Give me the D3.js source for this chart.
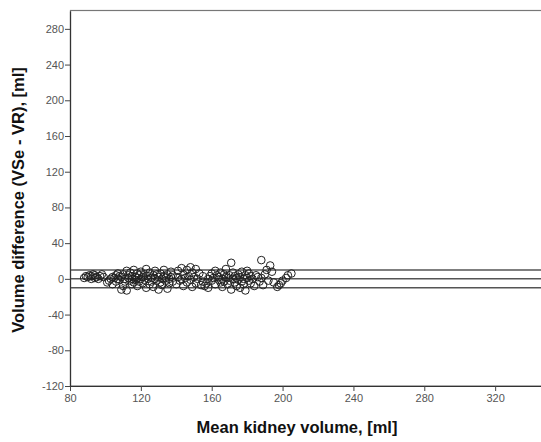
<!DOCTYPE html>
<html>
<head>
<meta charset="utf-8">
<script src="https://cdn.jsdelivr.net/npm/d3@7"></script>
<style>
  body { margin: 0; background: #fff; }
  svg { display: block; }
  .tick text { font-family: Arial, "Liberation Sans", sans-serif; font-size: 11px; fill: #555; }
  .axis-title { font-family: Arial, "Liberation Sans", sans-serif; font-size: 16.5px; font-weight: bold; fill: #111; }
</style>
</head>
<body>
<div id="chart"></div>
<script>
// mean kidney volume [ml] vs difference VSe - VR [ml]
var points = [
  [88,1],[89,3],[90,2],[91,4],[92,0],[92,3],[93,5],[94,1],[94,4],[95,2],[96,0],[97,3],[98,5],[99,2],
  [101,-4],[102,-2],[103,0],[104,2],[104,-6],[105,1],[106,4],[106,-3],[107,0],[107,6],[108,-1],[108,3],
  [109,-12],[109,2],[110,-8],[110,5],[111,0],[111,-3],[112,9],[112,-13],[113,1],[113,4],[114,-2],[114,7],
  [115,-6],[115,0],[115,3],[116,10],[116,-4],[117,2],[117,-1],[118,6],[118,-8],[118,1],[119,4],[119,-3],
  [120,0],[120,8],[121,-5],[121,2],[122,5],[122,-1],[123,11],[123,-10],[124,3],[124,0],[125,-6],[125,7],
  [126,1],[126,-3],[127,4],[127,-9],[128,0],[128,9],[129,-2],[129,5],[130,2],[130,-12],[131,-4],[131,6],
  [132,0],[132,-7],[133,3],[133,10],[134,-2],[134,1],[135,5],[135,-11],[136,0],[136,-5],[137,8],[137,2],
  [138,-3],[138,4],
  [140,-6],[141,2],[141,9],[142,-2],[143,12],[143,0],[144,5],[144,-8],[145,1],[146,10],[146,-4],[147,3],
  [148,13],[148,-1],[149,7],[149,-9],[150,2],[151,11],[151,-5],[152,0],[153,6],[154,-7],[155,-3],[155,3],
  [156,-8],[157,-5],[158,0],[158,-10],[159,3],[160,-2],[160,6],[161,1],[162,-6],[162,9],[163,4],[164,-1],
  [164,2],[165,-4],[165,7],
  [166,0],[166,-9],[167,5],[167,-3],[168,2],[168,11],[169,-6],[169,1],[170,-2],[170,4],[171,18],[171,-12],
  [172,0],[172,7],[173,-4],[173,3],[174,-8],[174,1],[175,5],[175,-1],[176,-10],[176,2],[177,8],[177,-3],
  [178,0],[178,-6],[179,4],[179,-13],[180,1],[180,9],[181,-2],[181,6],[182,-5],[182,3],
  [183,0],[184,-8],[185,4],[186,2],[187,-3],[188,21],[188,1],[189,-7],[190,5],[191,10],[192,-2],[193,15],
  [194,8],[195,-4],
  [197,-9],[198,-7],[199,-5],[200,-2],[202,1],[203,4],[205,6]
];
var refLines = [10, 0, -10];   // upper limit, mean, lower limit
var xTicks = [80, 120, 160, 200, 240, 280, 320];
var yTicks = [-120, -80, -40, 0, 40, 80, 120, 160, 200, 240, 280];

var width = 541, height = 442;
var svg = d3.select("#chart").append("svg").attr("width", width).attr("height", height);

// plot area runs past the right edge, like the source image
var x = d3.scaleLinear().domain([80, 360]).range([70, 566]);
var y = d3.scaleLinear().domain([-120, 300]).range([386, 11]);
var plain = function (d) { return String(d); };  // hyphen minus, as in the original

// frame
svg.append("rect")
  .attr("x", 70.5).attr("y", 10.5)
  .attr("width", 520).attr("height", 375.5)
  .attr("fill", "none").attr("stroke", "#777").attr("stroke-width", 1.2);

var xAxis = svg.append("g").attr("transform", "translate(0,386)")
  .call(d3.axisBottom(x).tickValues(xTicks).tickFormat(plain).tickSize(5).tickSizeOuter(0).tickPadding(3));
var yAxis = svg.append("g").attr("transform", "translate(70,0)")
  .call(d3.axisLeft(y).tickValues(yTicks).tickFormat(plain).tickSize(5).tickSizeOuter(0).tickPadding(1));
[xAxis, yAxis].forEach(function (g) {
  g.select(".domain").attr("stroke", "#333").attr("stroke-width", 1.2);
  g.selectAll(".tick line").attr("stroke", "#444");
});

// reference lines
svg.selectAll("line.ref").data(refLines).enter().append("line")
  .attr("class", "ref")
  .attr("x1", 71).attr("x2", width)
  .attr("y1", function (d) { return y(d); }).attr("y2", function (d) { return y(d); })
  .attr("stroke", "#555").attr("stroke-width", 1.5);

// points
svg.selectAll("circle").data(points).enter().append("circle")
  .attr("cx", function (d) { return x(d[0]); })
  .attr("cy", function (d) { return y(d[1]); })
  .attr("r", 3.8)
  .attr("fill", "none").attr("stroke", "#222").attr("stroke-width", 1);

// axis titles
svg.append("text").attr("class", "axis-title")
  .attr("x", 297).attr("y", 433).attr("text-anchor", "middle")
  .text("Mean kidney volume, [ml]");
svg.append("text").attr("class", "axis-title")
  .attr("transform", "translate(24,200) rotate(-90)").attr("text-anchor", "middle")
  .text("Volume difference (VSe - VR), [ml]");
</script>
</body>
</html>
